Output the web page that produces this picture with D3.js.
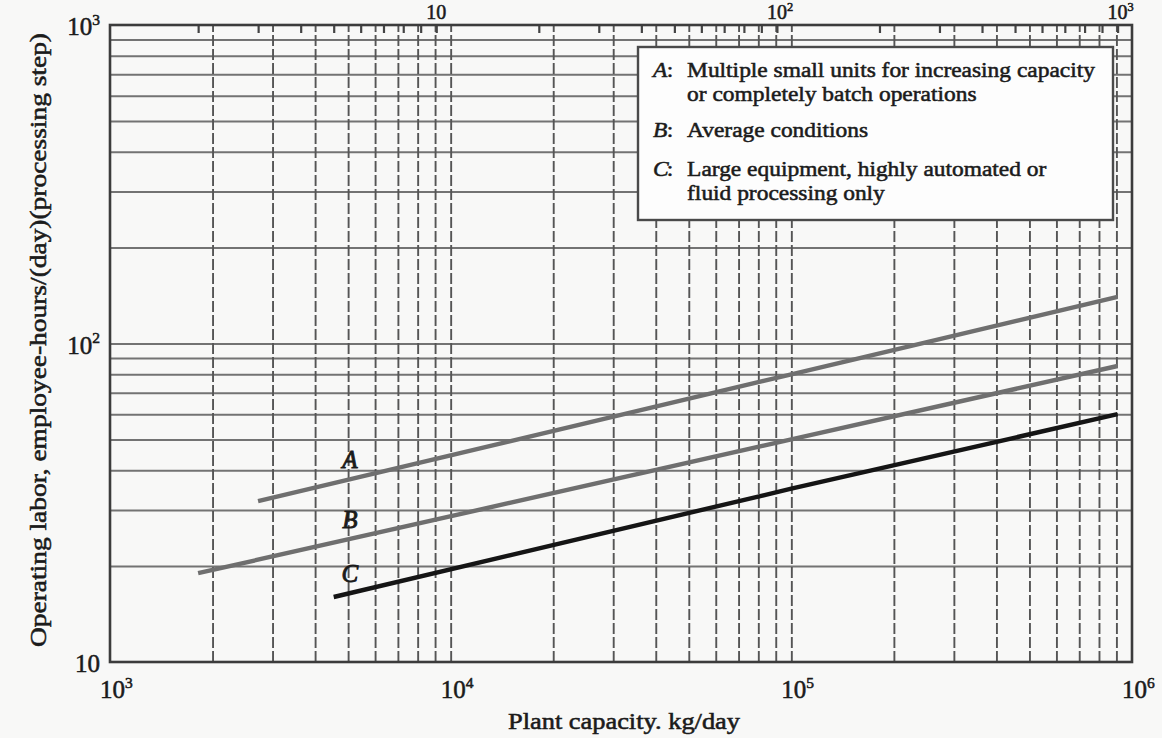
<!DOCTYPE html>
<html>
<head>
<meta charset="utf-8">
<script src="https://cdn.jsdelivr.net/npm/d3@7"></script>
<style>
  html, body { margin: 0; padding: 0; background: #f8f8f7; }
  svg { display: block; }
  text {
    font-family: "Liberation Serif", "Times New Roman", serif;
    fill: #1b1b1b; stroke: #1b1b1b; stroke-width: 0.55px;
  }
</style>
</head>
<body>
<svg id="chart" width="1162" height="738"></svg>
<script>
// Operating labor vs. plant capacity for three kinds of plant (log-log)
const seriesKeys = ["A", "B", "C"];
const capacityA = [2720, 100000, 907000];   // kg/day
const laborA    = [32, 80, 140];            // employee-hours/(day)(processing step)
const capacityB = [1814, 100000, 907000];
const laborB    = [19, 50, 85];
const capacityC = [4536, 100000, 907000];
const laborC    = [16, 35, 60];
const seriesColors = ["#6f6f6f", "#6f6f6f", "#151515"];

// Axis labels (powers of ten)
const xTickValues = [1e3, 1e4, 1e5, 1e6];
const xTickExponents = ["3", "4", "5", "6"];
const yTickValues = [10, 100, 1000];
const yTickExponents = ["", "2", "3"];
// Secondary scale along the top edge, in short tons/day
const tonTickValues = [10, 100, 1000];
const tonTickExponents = ["", "2", "3"];
const KG_PER_SHORT_TON = 907.185;

const legendKeys = ["A", "B", "C"];
const legendLines = [
  ["Multiple small units for increasing capacity", "or completely batch operations"],
  ["Average conditions"],
  ["Large equipment, highly automated or", "fluid processing only"]
];

const xTitle = "Plant capacity. kg/day";
const yTitle = "Operating labor, employee-hours/(day)(processing step)";

// ---------------------------------------------------------------------------
const box = { left: 110, right: 1132, top: 25, bottom: 662 };
const svg = d3.select("#chart");

const x = d3.scaleLog().domain([1e3, 1e6]).range([box.left, box.right]);
const y = d3.scaleLog().domain([10, 1000]).range([box.bottom, box.top]);
const xTon = d3.scaleLog()
  .domain([1e3 / KG_PER_SHORT_TON, 1e6 / KG_PER_SHORT_TON])
  .range([box.left, box.right]);

// Horizontal grid (solid)
const yInner = y.ticks().filter(v => v > 10 && v < 1000);
svg.append("g")
  .attr("transform", `translate(${box.left},0)`)
  .call(d3.axisLeft(y).tickValues(yInner).tickSize(-(box.right - box.left)).tickFormat(""))
  .call(g => g.select(".domain").remove())
  .call(g => g.selectAll("line").attr("stroke", "#737373").attr("stroke-width", 2));

// Vertical grid (dashed)
const xInner = x.ticks().filter(v => v > 1e3 && v < 1e6);
svg.append("g")
  .attr("transform", `translate(0,${box.bottom})`)
  .call(d3.axisBottom(x).tickValues(xInner).tickSize(-(box.bottom - box.top)).tickFormat(""))
  .call(g => g.select(".domain").remove())
  .call(g => g.selectAll("line")
    .attr("stroke", "#555").attr("stroke-width", 1.9).attr("stroke-dasharray", "11,3"));

// Short inward ticks along the top edge (tons/day)
svg.append("g")
  .attr("transform", `translate(0,${box.top})`)
  .call(d3.axisTop(xTon).tickSize(-8).tickFormat(""))
  .call(g => g.select(".domain").remove())
  .call(g => g.selectAll("line").attr("stroke", "#444").attr("stroke-width", 2.2));

// Plot frame
svg.append("rect")
  .attr("x", box.left).attr("y", box.top)
  .attr("width", box.right - box.left).attr("height", box.bottom - box.top)
  .attr("fill", "none").attr("stroke", "#3c3c3c").attr("stroke-width", 2.6);

// Power-of-ten label: "10" followed by a raised exponent
function powerLabel(sel, base, exp, size) {
  sel.append("tspan").text(base);
  if (exp) {
    sel.append("tspan").attr("dy", -size * 0.42).attr("font-size", size * 0.62).text(exp);
  }
}

// Bottom axis labels
xTickValues.forEach((v, i) => {
  svg.append("text")
    .attr("x", x(v) - 10).attr("y", 698)
    .attr("font-size", 25)
    .call(powerLabel, "10", xTickExponents[i], 25);
});

// Left axis labels
yTickValues.forEach((v, i) => {
  svg.append("text")
    .attr("x", 100).attr("y", y(v) + 10)
    .attr("text-anchor", "end")
    .attr("font-size", 25)
    .call(powerLabel, "10", yTickExponents[i], 25);
});

// Top axis labels (tons/day)
tonTickValues.forEach((v, i) => {
  svg.append("text")
    .attr("x", xTon(v) - 10).attr("y", 19)
    .attr("font-size", 20)
    .call(powerLabel, "10", tonTickExponents[i], 20);
});

// Axis titles
svg.append("text")
  .attr("x", 624).attr("y", 729)
  .attr("text-anchor", "middle")
  .attr("font-size", 23)
  .attr("textLength", 232).attr("lengthAdjust", "spacingAndGlyphs")
  .text(xTitle);

svg.append("text")
  .attr("transform", "translate(46,340) rotate(-90)")
  .attr("text-anchor", "middle")
  .attr("font-size", 24)
  .attr("textLength", 614).attr("lengthAdjust", "spacingAndGlyphs")
  .text(yTitle);

// Curves
const series = [
  { key: seriesKeys[0], pts: d3.zip(capacityA, laborA), color: seriesColors[0] },
  { key: seriesKeys[1], pts: d3.zip(capacityB, laborB), color: seriesColors[1] },
  { key: seriesKeys[2], pts: d3.zip(capacityC, laborC), color: seriesColors[2] }
];
const line = d3.line().x(d => x(d[0])).y(d => y(d[1]));

svg.append("g").selectAll("path")
  .data(series)
  .join("path")
  .attr("d", d => line(d.pts))
  .attr("fill", "none")
  .attr("stroke", d => d.color)
  .attr("stroke-width", 4.4)
  .attr("stroke-linecap", "butt");

// Curve letters, set just above each line at a common capacity
const labelCapacity = 5060;
series.forEach(s => {
  const [p0, p1] = s.pts;
  const px = x(labelCapacity);
  const t = (px - x(p0[0])) / (x(p1[0]) - x(p0[0]));
  const py = y(p0[1]) + t * (y(p1[1]) - y(p0[1]));
  svg.append("text")
    .attr("x", px).attr("y", py - 11)
    .attr("text-anchor", "middle")
    .attr("font-size", 25).attr("font-style", "italic")
    .style("stroke-width", "0.9px")
    .text(s.key);
});

// Legend box
const legend = { x: 638, y: 47, w: 475, h: 173 };
svg.append("rect")
  .attr("x", legend.x).attr("y", legend.y)
  .attr("width", legend.w).attr("height", legend.h)
  .attr("fill", "#fdfdfd").attr("stroke", "#4a4a4a").attr("stroke-width", 2.4);

const legendBaselines = [[77, 101], [137], [176, 200]];
const lg = svg.append("g").attr("transform", "translate(653,0) scale(1.065,1)");
legendKeys.forEach((k, i) => {
  const b0 = legendBaselines[i][0];
  lg.append("text").attr("x", 0).attr("y", b0)
    .attr("font-size", 22).attr("font-style", "italic").text(k);
  lg.append("text").attr("x", 13).attr("y", b0)
    .attr("font-size", 22).text(":");
  legendLines[i].forEach((ln, j) => {
    lg.append("text").attr("x", 32).attr("y", legendBaselines[i][j])
      .attr("font-size", 22).text(ln);
  });
});
</script>
</body>
</html>
